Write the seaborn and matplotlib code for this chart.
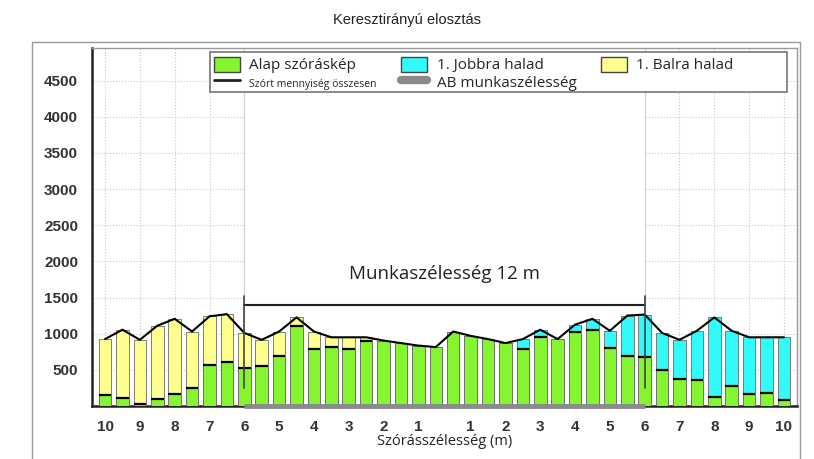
import numpy as np
import pandas as pd
import matplotlib
matplotlib.use('Agg')
import matplotlib.pyplot as plt
import seaborn as sns
from matplotlib.patches import Patch, Rectangle
from matplotlib.lines import Line2D

# tálcák: bal oldal 10 -> 0.5 m, jobb oldal 0.5 -> 10 m (0.5 m lépés)
alap = [150, 105, 30, 95, 165, 255, 565, 610, 530, 555,
        685, 1110, 790, 810, 790, 905, 905, 870, 835, 815,
        1030, 970, 925, 870, 785, 955, 925, 1020, 1045, 800,
        695, 675, 500, 375, 360, 130, 270, 160, 175, 85]
balra = [775, 950, 885, 1015, 1040, 775, 675, 660, 480, 360,
         345, 115, 240, 140, 160, 45, 0, 0, 0, 0,
         0, 0, 0, 0, 0, 0, 0, 0, 0, 0,
         0, 0, 0, 0, 0, 0, 0, 0, 0, 0]
jobbra = [0, 0, 0, 0, 0, 0, 0, 0, 0, 0,
          0, 0, 0, 0, 0, 0, 0, 0, 0, 0,
          0, 0, 0, 0, 140, 100, 0, 105, 160, 240,
          555, 590, 510, 540, 680, 1095, 770, 790, 775, 865]

tick_labels = ['10', '9', '8', '7', '6', '5', '4', '3', '2', '1',
               '1', '2', '3', '4', '5', '6', '7', '8', '9', '10']
tick_idx = list(range(0, 20, 2)) + list(range(21, 40, 2))
ab_start, ab_end = 8, 31   # 6 m bal - 6 m jobb

GREEN = '#84F530'
CYAN = '#33FAFA'
YELLOW = '#FFFF8F'

df = pd.DataFrame({'pos': np.arange(len(alap)), 'alap': alap,
                   'balra': balra, 'jobbra': jobbra})
df['total'] = df['alap'] + df['balra'] + df['jobbra']
df['oldal'] = np.where(df['pos'] < 20, 'bal', 'jobb')

sns.set_style('white')
plt.rcParams['font.family'] = ['Liberation Sans', 'DejaVu Sans']

fig = plt.figure(figsize=(8.14, 4.59), dpi=100)
ax = fig.add_axes([92 / 814, 1 - 406 / 459, 705 / 814, 358 / 459])

ax.set_axisbelow(True)
ax.grid(True, color='#c8c8c8', linestyle=':', linewidth=0.8)
# munkaszélesség fehér sáv
ax.axvspan(ab_start, ab_end, color='white', zorder=1)
for xv in (ab_start, ab_end):
    ax.axvline(xv, color='#d0d0d0', lw=0.8, zorder=1.1)

sns.barplot(data=df, x='pos', y='total', hue='oldal',
            palette={'bal': YELLOW, 'jobb': CYAN}, native_scale=True,
            width=0.72, dodge=False, errorbar=None, legend=False,
            saturation=1, edgecolor='#6a6a6a', linewidth=0.6, ax=ax,
            zorder=2)
sns.barplot(data=df, x='pos', y='alap', color=GREEN, native_scale=True,
            width=0.72, errorbar=None, edgecolor='#6a6a6a', linewidth=0.6,
            saturation=1, ax=ax, zorder=3)

split = df[(df['balra'] + df['jobbra']) > 0]
ax.hlines(split['alap'], split['pos'] - 0.36, split['pos'] + 0.36,
          color='black', lw=1.6, zorder=4)

sns.lineplot(data=df, x='pos', y='total', color='black', lw=1.5,
             ax=ax, zorder=5)

# munkaszélesség jelölés
ax.plot([ab_start, ab_end], [1390, 1390], color='#222222', lw=1.5, zorder=6)
for xv in (ab_start, ab_end):
    ax.plot([xv, xv], [250, 1520], color='#444444', lw=1.2, zorder=6)
ax.text((ab_start + ab_end) / 2, 1830, 'Munkaszélesség 12 m',
        ha='center', va='center', fontsize=13.5, family='Open Sans',
        color='#222222', zorder=7)

ax.set_xlim(-0.75, 39.75)
ax.set_ylim(0, 4950)
ax.set_yticks(range(500, 5000, 500))
ax.set_xticks(tick_idx)
ax.set_xticklabels(tick_labels)
ax.tick_params(axis='both', labelsize=11, colors='#333333', length=4,
               width=0.8, direction='out', pad=6)
for lab in ax.get_xticklabels() + ax.get_yticklabels():
    lab.set_fontweight('bold')
    lab.set_color('#333333')
ax.set_xlabel('Szórásszélesség (m)', fontsize=10.5, family='Open Sans',
              labelpad=0, color='#222222')
ax.set_ylabel('')

for s in ('top', 'right'):
    ax.spines[s].set_color('#9a9a9a')
    ax.spines[s].set_linewidth(1)
for s in ('left', 'bottom'):
    ax.spines[s].set_color('#222222')
    ax.spines[s].set_linewidth(1.8)
ax.plot([ab_start, ab_end], [0, 0], color='#8a8a8a', lw=3.5,
        solid_capstyle='butt', clip_on=False, zorder=8)

# jelmagyarázat: keret külön téglalapként, a tételek fölötte
ax.add_patch(Rectangle((0.167, 0.877), 0.819, 0.112, transform=ax.transAxes,
                       facecolor='white', edgecolor='#777777', lw=1.2,
                       zorder=9, clip_on=False))
handles = [Patch(facecolor=GREEN, edgecolor='#444444'),
           Line2D([], [], color='#222222', lw=2),
           Patch(facecolor=CYAN, edgecolor='#444444'),
           Line2D([], [], color='#8a8a8a', lw=6),
           Patch(facecolor=YELLOW, edgecolor='#444444')]
labels = ['Alap szóráskép', 'Szórt mennyiség összesen', '1. Jobbra halad',
          'AB munkaszélesség', '1. Balra halad']
leg = ax.legend(handles, labels, ncol=3, loc='upper left',
                bbox_to_anchor=(0.167, 0.989), frameon=False,
                prop={'family': 'Open Sans', 'size': 11},
                handlelength=1.7, handleheight=1.15, handletextpad=0.6,
                borderpad=0.3, labelspacing=0.05, borderaxespad=0,
                columnspacing=1.6)
leg.set_zorder(10)
leg.get_texts()[1].set_fontsize(7.5)

fig.text(0.5, 1 - 20 / 459, 'Keresztirányú elosztás', ha='center',
         va='center', fontsize=10.5, color='#222222')
fig.patches.append(Rectangle((32 / 814, -0.01), 768 / 814, 0.01 + 417 / 459,
                             transform=fig.transFigure, fill=False,
                             edgecolor='#9a9a9a', lw=1))

fig.savefig('out.png', dpi=100)
